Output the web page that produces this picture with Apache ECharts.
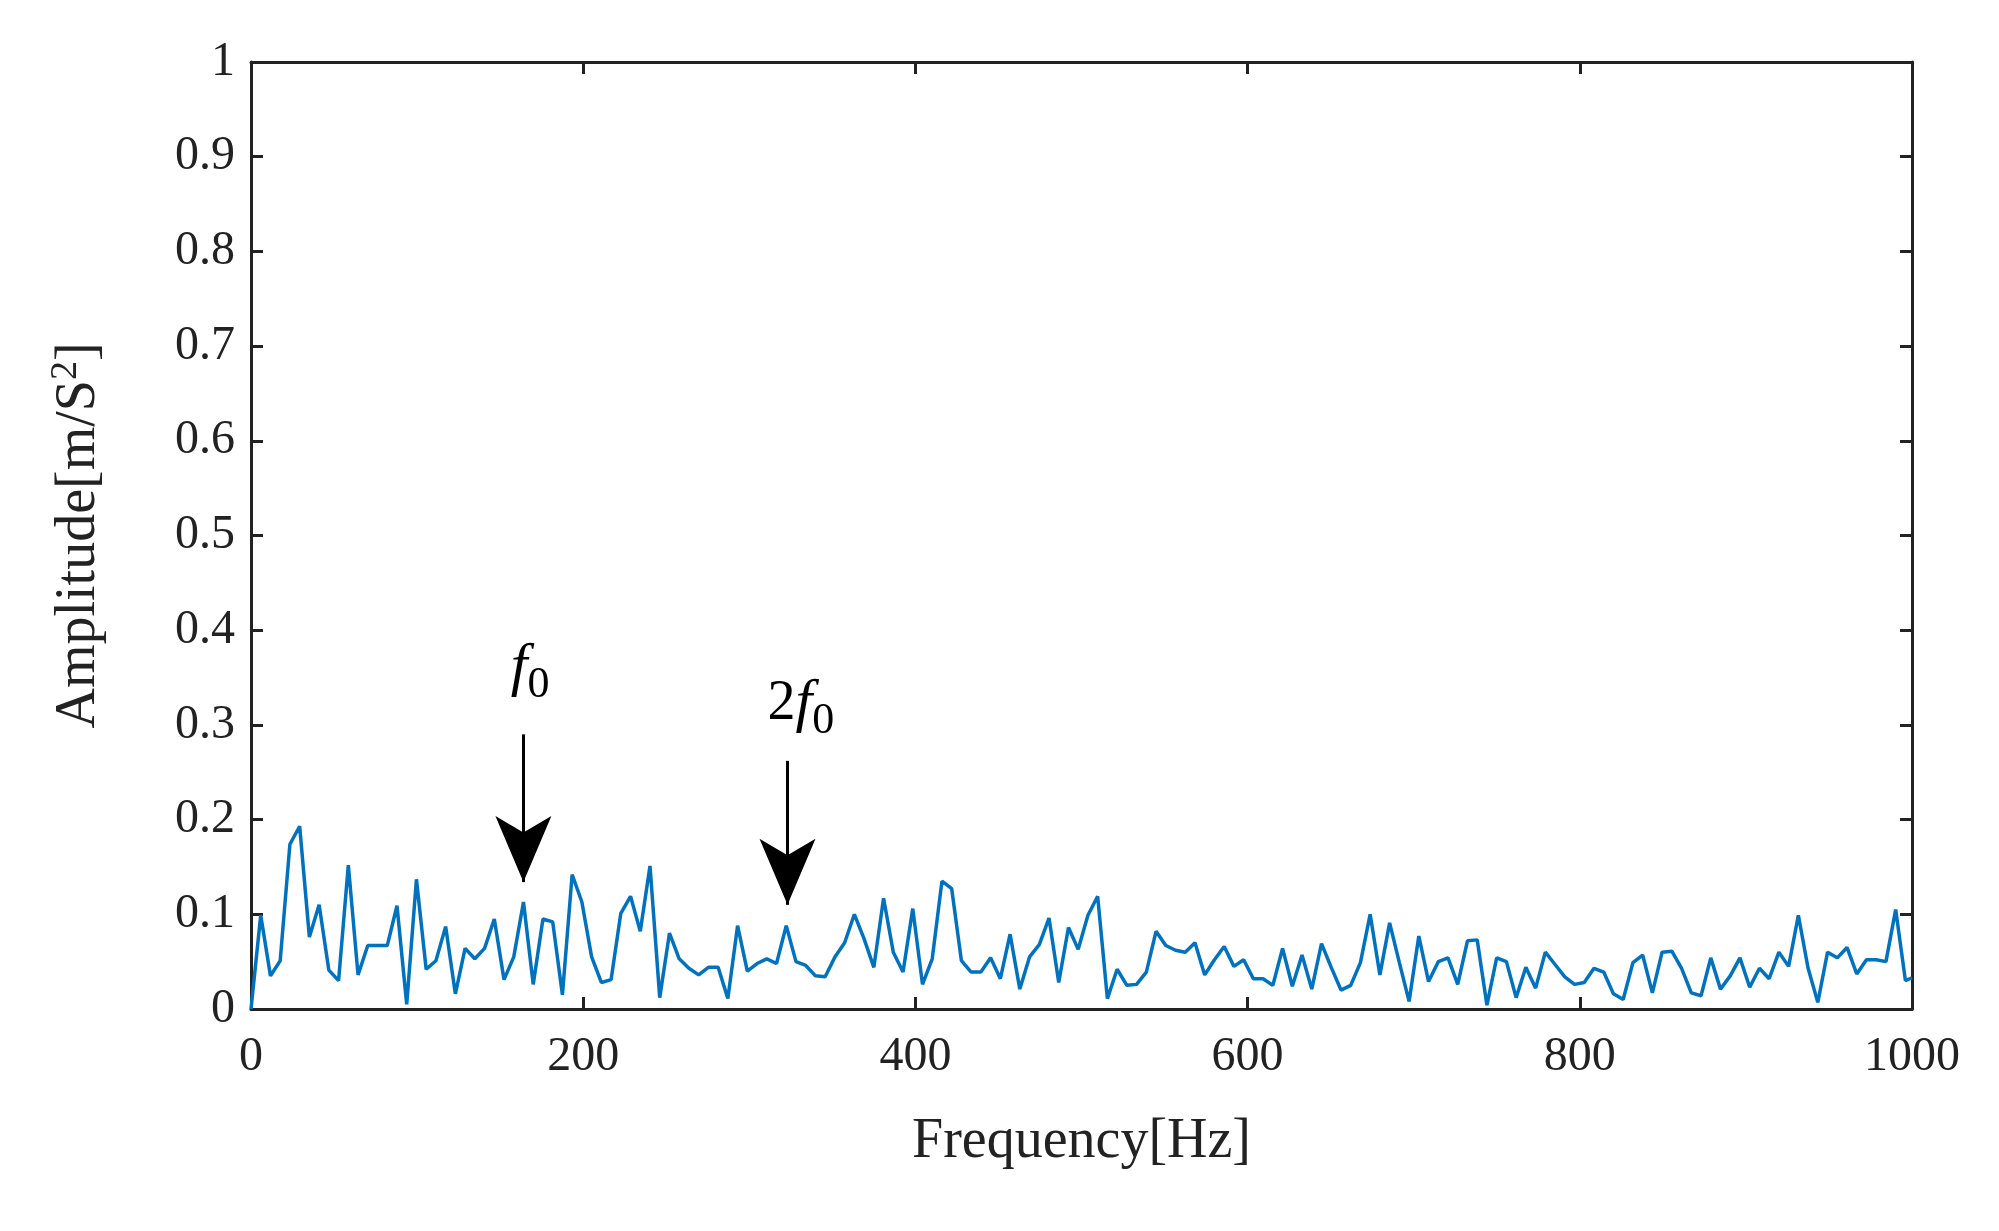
<!DOCTYPE html>
<html><head><meta charset="utf-8">
<script src="https://cdn.jsdelivr.net/npm/echarts@6/dist/echarts.min.js"></script>
<style>html,body{margin:0;padding:0;background:#fff}#c{width:1999px;height:1231px}</style>
</head><body><div id="c"></div>
<script>
const df = 5.859;
const amplitude = [
0,0.099,0.035,0.051,0.174,0.193,0.076,0.110,0.041,0.030,
0.152,0.036,0.067,0.067,0.067,0.109,0.005,0.137,0.042,0.051,
0.087,0.016,0.064,0.053,0.064,0.095,0.031,0.055,0.113,0.026,
0.095,0.092,0.015,0.142,0.113,0.055,0.028,0.031,0.101,0.119,
0.082,0.151,0.012,0.080,0.053,0.043,0.036,0.044,0.044,0.011,
0.088,0.040,0.048,0.053,0.048,0.088,0.050,0.046,0.035,0.034,
0.055,0.070,0.100,0.074,0.044,0.117,0.060,0.039,0.106,0.026,
0.053,0.135,0.127,0.051,0.039,0.039,0.054,0.032,0.079,0.021,
0.055,0.068,0.096,0.028,0.086,0.063,0.099,0.119,0.011,0.042,
0.025,0.026,0.039,0.082,0.067,0.062,0.060,0.070,0.036,0.052,
0.066,0.045,0.052,0.032,0.032,0.025,0.064,0.024,0.057,0.021,
0.069,0.044,0.020,0.025,0.049,0.100,0.036,0.091,0.049,0.008,
0.077,0.029,0.050,0.054,0.026,0.072,0.073,0.004,0.054,0.050,
0.012,0.044,0.022,0.060,0.047,0.034,0.026,0.028,0.043,0.039,
0.016,0.010,0.049,0.057,0.017,0.060,0.061,0.043,0.017,0.014,
0.054,0.021,0.035,0.054,0.023,0.043,0.032,0.060,0.045,0.099,
0.043,0.007,0.060,0.054,0.065,0.037,0.052,0.052,0.050,0.105,
0.030,0.033];
const arrows = [
  {x:164, y0:0.29, y1:0.134, lx:168, ly:0.36, label:'{i|f}{s|0}'},
  {x:323, y0:0.262, y1:0.110, lx:331, ly:0.322, label:'{n|2}{i|f}{s|0}'}
];
const data = amplitude.map((v,i)=>[Math.min(i*df,1000), v]);

const font = 'Liberation Serif';
const axisCommon = {
  axisLine:{show:true,onZero:false,lineStyle:{color:'#222',width:3}},
  axisTick:{show:true,inside:true,length:12,lineStyle:{color:'#222',width:3}},
  splitLine:{show:false}
};
const chart = echarts.init(document.getElementById('c'));
chart.setOption({
  animation:false,
  grid:{left:251,right:87,top:62,bottom:222},
  xAxis:[
    Object.assign({type:'value',min:0,max:1000,interval:200,position:'bottom',
      name:'Frequency[Hz]',nameLocation:'middle',nameGap:105,
      nameTextStyle:{fontFamily:font,fontSize:56,color:'#222'},
      axisLabel:{fontFamily:font,fontSize:48,color:'#222',margin:24,formatter:v=>String(v)}},axisCommon),
    Object.assign({type:'value',min:0,max:1000,interval:200,position:'top',axisLabel:{show:false}},axisCommon)
  ],
  yAxis:[
    Object.assign({type:'value',min:0,max:1,interval:0.1,position:'left',
      name:'{a|Amplitude[m/S}{b|2}{a|]}',nameLocation:'middle',nameGap:140,
      nameTextStyle:{rich:{a:{fontFamily:font,fontSize:56,color:'#222'},b:{fontFamily:font,fontSize:38,color:'#222',verticalAlign:'top',padding:[0,0,26,0]}}},
      axisLabel:{fontFamily:font,fontSize:48,color:'#222',margin:16,formatter:v=>v===0?'0':v===1?'1':v.toFixed(1)}},axisCommon),
    Object.assign({type:'value',min:0,max:1,interval:0.1,position:'right',axisLabel:{show:false}},axisCommon)
  ],
  series:[{
    type:'line',data:data,showSymbol:false,symbol:'none',
    lineStyle:{color:'#0072BD',width:3.5},
    markLine:{silent:true,symbol:['none','arrow'],symbolSize:[42,66],
      lineStyle:{color:'#000',width:3,type:'solid'},label:{show:false},
      data:arrows.map(a=>[{coord:[a.x,a.y0]},{coord:[a.x,a.y1]}])},
    markPoint:{silent:true,symbol:'circle',symbolSize:1,itemStyle:{color:'rgba(0,0,0,0)'},
      data:arrows.map(a=>({coord:[a.lx,a.ly],label:{show:true,position:'inside',formatter:a.label,
        rich:{i:{fontFamily:font,fontStyle:'italic',fontSize:60,color:'#000'},
              n:{fontFamily:font,fontSize:56,color:'#000'},
              s:{fontFamily:font,fontSize:44,color:'#000',verticalAlign:'bottom',padding:[34,0,0,0]}}}}))}
  }]
});
</script></body></html>
